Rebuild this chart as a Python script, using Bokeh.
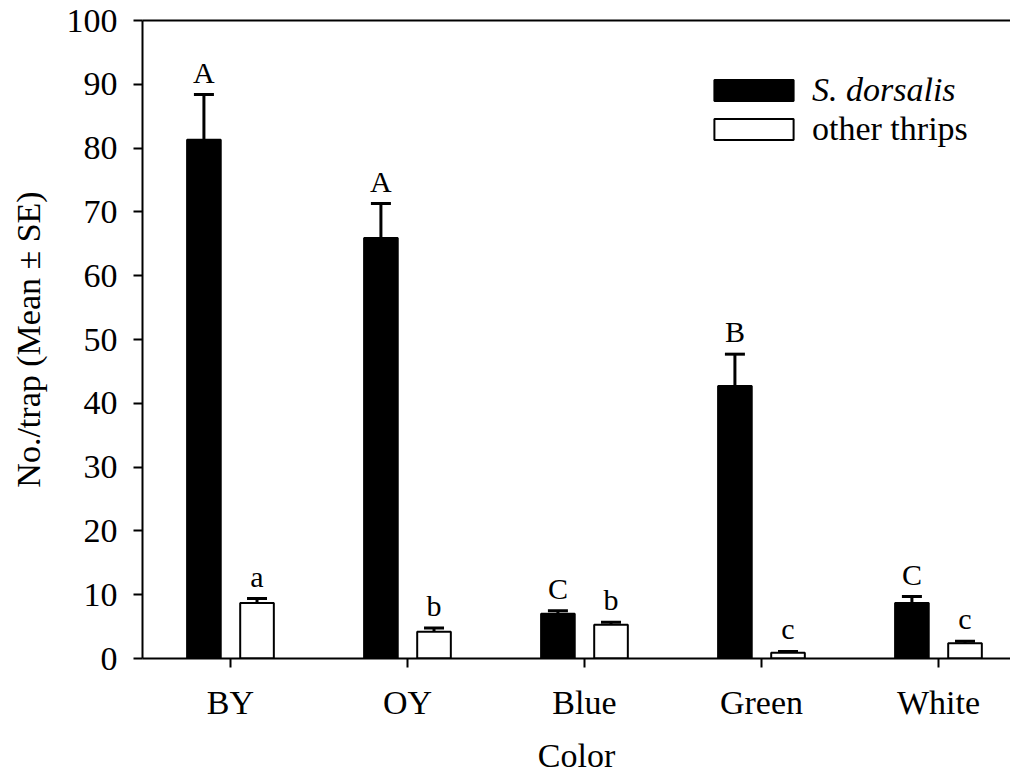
import numpy as np
from bokeh.plotting import figure
from bokeh.models import (ColumnDataSource, Whisker, TeeHead, FixedTicker, LinearAxis,
                          Legend, LegendItem, Range1d, LabelSet)
from bokeh.embed import file_html
from bokeh.resources import INLINE

categories = ["BY", "OY", "Blue", "Green", "White"]
dorsalis_mean = [81.3, 65.9, 7.0, 42.7, 8.7]
dorsalis_se = [7.1, 5.4, 0.5, 5.0, 1.0]
other_mean = [8.7, 4.2, 5.3, 0.9, 2.4]
other_se = [0.7, 0.6, 0.4, 0.2, 0.3]
dorsalis_letters = ["A", "A", "C", "B", "C"]
other_letters = ["a", "b", "b", "c", "c"]
y_ticks = [0, 10, 20, 30, 40, 50, 60, 70, 80, 90, 100]

FONT = "Liberation Serif"
xpos = np.arange(len(categories)) + 1.0
off = 0.15
bw = 0.19

src_d = ColumnDataSource(dict(x=xpos - off, top=dorsalis_mean,
                              upper=np.array(dorsalis_mean) + np.array(dorsalis_se),
                              lab=dorsalis_letters))
src_o = ColumnDataSource(dict(x=xpos + off, top=other_mean,
                              upper=np.array(other_mean) + np.array(other_se),
                              lab=other_letters))

p = figure(width=1010, height=776, output_backend="svg", toolbar_location=None,
           x_range=Range1d(0.503, 5.407), y_range=Range1d(0, 100),
           min_border_left=142, min_border_top=20, min_border_bottom=118, min_border_right=0)
p.outline_line_color = None
p.xgrid.visible = False
p.ygrid.visible = False

r_d = p.vbar(x="x", top="top", bottom=0, width=bw, source=src_d,
             fill_color="black", line_color="black", line_width=2)
r_o = p.vbar(x="x", top="top", bottom=0, width=bw, source=src_o,
             fill_color="white", line_color="black", line_width=2)

for src in (src_d, src_o):
    w = Whisker(source=src, base="x", upper="upper", lower="top", dimension="height",
                line_color="black", line_width=3, lower_head=None,
                upper_head=TeeHead(size=20, line_width=3, line_color="black"))
    p.add_layout(w)
    ls = LabelSet(x="x", y="upper", text="lab", source=src, text_align="center",
                  text_baseline="alphabetic", y_offset=12, text_font=FONT,
                  text_font_size="30px", text_color="black")
    p.add_layout(ls)

# axes
p.xaxis.ticker = FixedTicker(ticks=list(xpos))
p.xaxis.major_label_overrides = {float(v): c for v, c in zip(xpos, categories)}
p.yaxis.ticker = FixedTicker(ticks=y_ticks)
for ax in (p.xaxis[0], p.yaxis[0]):
    ax.axis_line_width = 2
    ax.major_tick_line_width = 2
    ax.major_tick_out = 9
    ax.major_tick_in = 0
    ax.minor_tick_out = 0
    ax.minor_tick_in = 0
    ax.major_label_text_font = FONT
    ax.major_label_text_font_size = "34px"
    ax.major_label_text_color = "black"
    ax.axis_label_text_font = FONT
    ax.axis_label_text_font_size = "34px"
    ax.axis_label_text_font_style = "normal"
    ax.axis_label_text_color = "black"
p.xaxis.axis_label = "Color"
p.yaxis.axis_label = "No./trap (Mean ± SE)"
p.xaxis.major_label_standoff = 16
p.xaxis.axis_label_standoff = 13
p.yaxis.major_label_standoff = 16
p.yaxis.axis_label_standoff = 17

top_axis = LinearAxis(ticker=FixedTicker(ticks=[]), axis_line_width=2,
                      major_tick_out=0, major_tick_in=0, minor_tick_out=0, minor_tick_in=0,
                      major_label_text_font_size="0px")
p.add_layout(top_axis, "above")

# legends (glyphs are drawn with a 10% inset, so the box is enlarged)
for rend, label, style, loc in ((r_d, "S. dorsalis", "italic", (562, 548)),
                                (r_o, "other thrips", "normal", (562, 509))):
    lg = Legend(items=[LegendItem(label=label, renderers=[rend])], location=loc,
                glyph_width=99, glyph_height=26, label_height=40, label_standoff=9,
                padding=0, margin=0, spacing=0, border_line_color=None,
                background_fill_alpha=0, label_text_font=FONT,
                label_text_font_size="34px", label_text_font_style=style,
                label_text_color="black")
    p.add_layout(lg, "center")

open("out.html", "w").write(file_html(p, INLINE))
